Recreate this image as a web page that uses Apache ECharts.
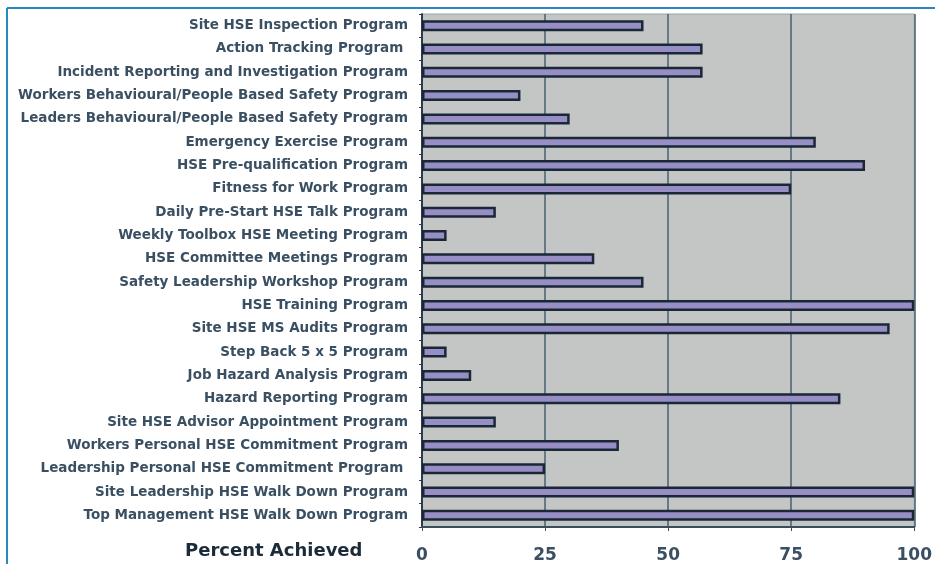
<!DOCTYPE html>
<html>
<head>
<meta charset="utf-8">
<script src="https://cdn.jsdelivr.net/npm/echarts@6/dist/echarts.min.js"></script>
<style>
html,body{margin:0;padding:0;background:#fff;}
#chart{width:935px;height:564px;}
</style>
</head>
<body>
<div id="chart"></div>
<script>
const categories = [
  "Site HSE Inspection Program",
  "Action Tracking Program ",
  "Incident Reporting and Investigation Program",
  "Workers Behavioural/People Based Safety Program",
  "Leaders Behavioural/People Based Safety Program",
  "Emergency Exercise Program",
  "HSE Pre-qualification Program",
  "Fitness for Work Program",
  "Daily Pre-Start HSE Talk Program",
  "Weekly Toolbox HSE Meeting Program",
  "HSE Committee Meetings Program",
  "Safety Leadership Workshop Program",
  "HSE Training Program",
  "Site HSE MS Audits Program",
  "Step Back 5 x 5 Program",
  "Job Hazard Analysis Program",
  "Hazard Reporting Program",
  "Site HSE Advisor Appointment Program",
  "Workers Personal HSE Commitment Program",
  "Leadership Personal HSE Commitment Program ",
  "Site Leadership HSE Walk Down Program",
  "Top Management HSE Walk Down Program"
];
const percentAchieved = [45, 57, 57, 20, 30, 80, 90, 75, 15, 5, 35, 45, 100, 95, 5, 10, 85, 15, 40, 25, 100, 100];
const xTicks = [0, 25, 50, 75, 100];
const axisTitle = "Percent Achieved";

const chart = echarts.init(document.getElementById('chart'), null, {renderer: 'canvas'});
const textColor = '#3a5062';
chart.setOption({
  animation: false,
  backgroundColor: '#ffffff',
  graphic: [
    {type: 'line', shape: {x1: 7, y1: 8, x2: 935, y2: 8}, style: {stroke: '#2a86c4', lineWidth: 2}},
    {type: 'line', shape: {x1: 7, y1: 8, x2: 7, y2: 564}, style: {stroke: '#2a86c4', lineWidth: 2}},
    {type: 'text', left: 185, top: 542, style: {text: axisTitle, font: 'bold 18px "DejaVu Sans", sans-serif', fill: '#1c2b38'}}
  ],
  grid: {left: 422, right: 17, top: 14, bottom: 37, show: true, backgroundColor: '#c4c6c6', borderColor: '#9aa4a8', borderWidth: 1},
  xAxis: {
    type: 'value', min: 0, max: 100, interval: 25,
    axisLine: {show: true, onZero: false, lineStyle: {color: '#3a4e5c', width: 2}},
    axisTick: {show: true, length: 4, lineStyle: {color: '#3a4e5c'}},
    splitLine: {show: true, lineStyle: {color: '#45606e', width: 1.5}},
    axisLabel: {color: textColor, fontSize: 17, fontWeight: 'bold', fontFamily: '"DejaVu Sans", sans-serif', margin: 20,
      formatter: v => xTicks.includes(v) ? String(v) : ''}
  },
  yAxis: {
    type: 'category', data: categories, inverse: true,
    axisLine: {show: true, lineStyle: {color: '#2a3c4a', width: 2}},
    axisTick: {show: true, length: 3, lineStyle: {color: '#2a3c4a'}},
    axisLabel: {color: textColor, fontSize: 13.5, fontWeight: 'bold', fontFamily: '"DejaVu Sans", sans-serif', margin: 14},
    splitLine: {show: false}
  },
  series: [{
    type: 'bar', data: percentAchieved, barWidth: 11,
    itemStyle: {color: '#978ec6', borderColor: '#1a2836', borderWidth: 2.5}
  }]
});
</script>
</body>
</html>
